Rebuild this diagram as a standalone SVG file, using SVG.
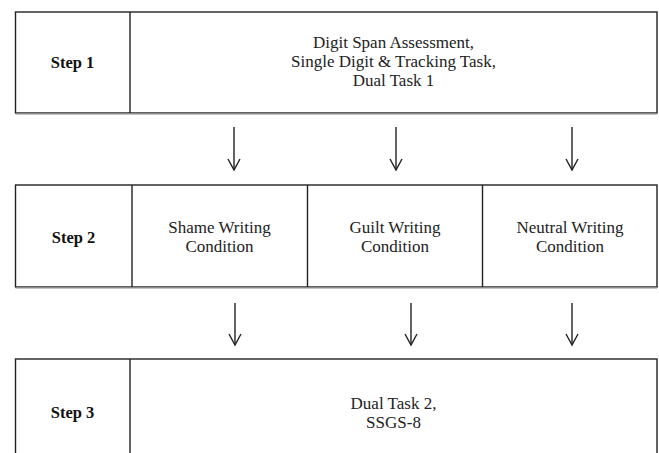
<svg xmlns="http://www.w3.org/2000/svg" width="659" height="453" viewBox="0 0 659 453">
<style>
.box{fill:#fff;stroke:#222;stroke-width:1.4}
.sh{stroke:#888;stroke-width:1.6}
.div{stroke:#222;stroke-width:1.4}
.lbl{font-family:"Liberation Serif","Times New Roman",serif;font-size:16.5px;font-weight:bold;fill:#111;text-anchor:middle}
.txt{font-family:"Liberation Serif","Times New Roman",serif;font-size:17px;fill:#222;text-anchor:middle}
.arr{stroke:#222;stroke-width:1.4;fill:none}
</style>
<rect width="659" height="453" fill="#fff"/>
<g id="step1">
<rect class="box" x="15.5" y="12" width="641.5" height="101"/>
<line class="sh" x1="15.5" y1="113.8" x2="657" y2="113.8"/>
<line class="div" x1="130" y1="12" x2="130" y2="113"/>
<text class="lbl" x="72.5" y="68">Step 1</text>
<text class="txt" x="393.5" y="48">Digit Span Assessment,</text>
<text class="txt" x="393.5" y="67">Single Digit &amp; Tracking Task,</text>
<text class="txt" x="393.5" y="86">Dual Task 1</text>
</g>
<g id="step2">
<rect class="box" x="15.5" y="185" width="641.5" height="102"/>
<line class="sh" x1="15.5" y1="287.8" x2="657" y2="287.8"/>
<line class="div" x1="132" y1="185" x2="132" y2="287"/>
<line class="div" x1="307.5" y1="185" x2="307.5" y2="287"/>
<line class="div" x1="482.5" y1="185" x2="482.5" y2="287"/>
<text class="lbl" x="73.5" y="243">Step 2</text>
</g>
<g id="shame">
<text class="txt" x="219.5" y="233">Shame Writing</text>
<text class="txt" x="219.5" y="252">Condition</text>
</g>
<g id="guilt">
<text class="txt" x="395" y="233">Guilt Writing</text>
<text class="txt" x="395" y="252">Condition</text>
</g>
<g id="neutral">
<text class="txt" x="570" y="233">Neutral Writing</text>
<text class="txt" x="570" y="252">Condition</text>
</g>
<g id="step3">
<rect class="box" x="15.5" y="359" width="641.5" height="110"/>
<line class="div" x1="130" y1="359" x2="130" y2="460"/>
<text class="lbl" x="72.5" y="418">Step 3</text>
<text class="txt" x="393.5" y="409">Dual Task 2,</text>
<text class="txt" x="393.5" y="428">SSGS-8</text>
</g>
<g id="connectors">
<path class="arr" d="M234,127 V170"/>
<path class="arr" d="M228,159 L234,170 L240,159"/>
<path class="arr" d="M396,127 V170"/>
<path class="arr" d="M390,159 L396,170 L402,159"/>
<path class="arr" d="M572,127 V170"/>
<path class="arr" d="M566,159 L572,170 L578,159"/>
<path class="arr" d="M235,303 V345"/>
<path class="arr" d="M229,334 L235,345 L241,334"/>
<path class="arr" d="M411,303 V345"/>
<path class="arr" d="M405,334 L411,345 L417,334"/>
<path class="arr" d="M572,303 V345"/>
<path class="arr" d="M566,334 L572,345 L578,334"/>
</g>
</svg>
